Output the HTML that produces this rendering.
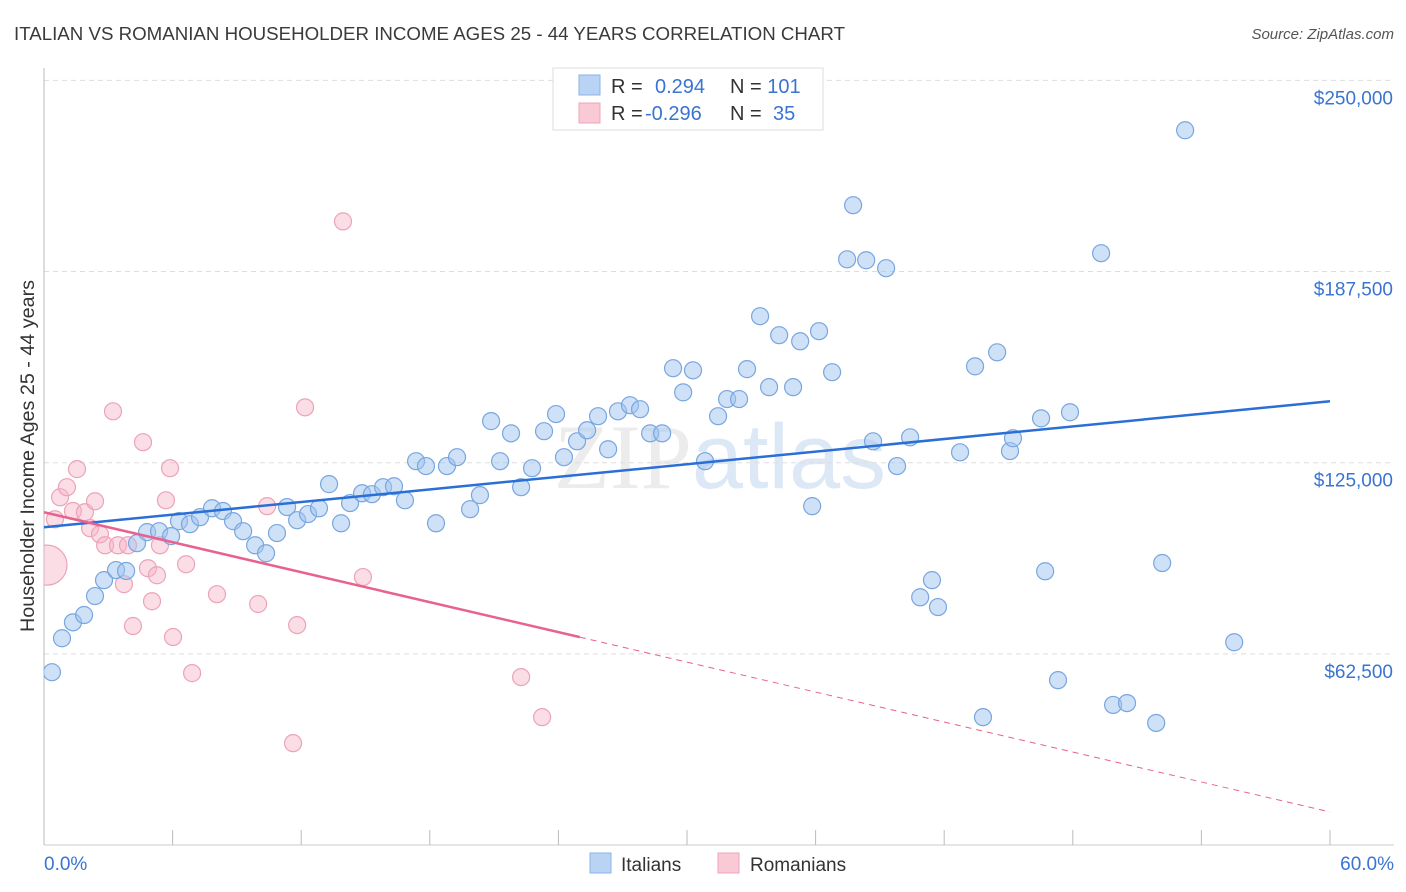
<!DOCTYPE html>
<html><head><meta charset="utf-8"><style>
body{margin:0;background:#fff;font-family:"Liberation Sans",sans-serif;}
svg{display:block}
</style></head><body>
<svg id="chart" width="1406" height="892" xmlns="http://www.w3.org/2000/svg">
<text x="14" y="40" font-size="18" fill="#3a3a3a" textLength="831" lengthAdjust="spacingAndGlyphs">ITALIAN VS ROMANIAN HOUSEHOLDER INCOME AGES 25 - 44 YEARS CORRELATION CHART</text>
<text x="1394" y="39" font-size="15" fill="#555" text-anchor="end" font-style="italic">Source: ZipAtlas.com</text>
<text x="720" y="488" font-size="92" fill="#ececec" text-anchor="middle" font-family="Liberation Serif,serif">ZIP<tspan fill="#dde8f6" font-family="Liberation Sans,sans-serif">atlas</tspan></text>
<g id="grid"></g>
<g id="axes"></g>
<g id="marks"></g>
<g>
<rect x="553" y="68" width="270" height="62" fill="#fff" stroke="#ddd"/>
<rect x="579" y="75" width="21" height="20" fill="#b9d3f5" stroke="#8ab3e6"/>
<rect x="579" y="103" width="21" height="20" fill="#f9c9d6" stroke="#eda5bb"/>
<text x="611" y="93" font-size="20" fill="#333">R = <tspan x="655" fill="#3a74d0">0.294</tspan><tspan x="730" fill="#333">N = </tspan><tspan fill="#3a74d0">101</tspan></text>
<text x="611" y="120" font-size="20" fill="#333">R = <tspan x="645" fill="#3a74d0">-0.296</tspan><tspan x="730" fill="#333">N = </tspan><tspan x="773" fill="#3a74d0">35</tspan></text>
</g>
<g>
<rect x="590" y="853" width="21" height="20" fill="#b9d3f5" stroke="#8ab3e6"/>
<text x="621" y="871" font-size="19" fill="#333">Italians</text>
<rect x="718" y="853" width="21" height="20" fill="#f9c9d6" stroke="#eda5bb"/>
<text x="750" y="871" font-size="19" fill="#333">Romanians</text>
</g>
<text transform="translate(34,456) rotate(-90)" font-size="19" fill="#333" text-anchor="middle" textLength="352" lengthAdjust="spacingAndGlyphs">Householder Income Ages 25 - 44 years</text>
</svg>
<script>
const yTicks=[62500,125000,187500,250000];
const yTickLabels=["$62,500","$125,000","$187,500","$250,000"];
const xTickLabels=["0.0%","60.0%"];
const italiansX=[0.37,0.84,1.35,1.87,2.38,2.80,3.36,3.83,4.34,4.81,5.37,5.93,6.30,6.81,7.28,7.84,8.35,8.82,9.29,9.85,10.36,10.87,11.34,11.81,12.32,12.83,13.30,13.86,14.28,14.84,15.30,15.82,16.33,16.84,17.36,17.82,18.29,18.80,19.27,19.88,20.34,20.86,21.28,21.79,22.26,22.77,23.33,23.89,24.26,24.87,25.34,25.85,26.32,26.78,27.34,27.81,28.28,28.84,29.35,29.82,30.28,30.84,31.45,31.87,32.43,32.80,33.41,33.83,34.30,34.95,35.28,36.16,36.77,35.84,37.47,37.75,38.36,39.29,38.68,39.80,40.41,40.88,41.43,41.71,42.74,43.44,43.81,44.47,45.07,45.21,46.52,46.71,47.31,47.87,49.32,49.88,50.53,51.89,52.17,53.24,55.53];
const italiansY=[56.5,67.6,72.8,75.2,81.4,86.6,89.9,89.6,98.7,102.3,102.6,101.0,105.9,104.9,107.2,110.1,109.2,105.9,102.6,98.0,95.4,102.0,110.5,106.2,108.2,110.1,118.0,105.2,111.8,115.0,114.7,117.0,117.3,112.7,125.5,123.9,105.2,123.9,126.8,109.8,114.4,138.6,125.5,134.6,117.0,123.2,135.3,140.9,126.8,132.0,135.6,140.2,129.4,141.8,143.8,142.5,134.6,134.6,155.9,148.0,155.2,125.5,140.2,145.8,145.8,155.6,172.9,149.7,166.7,149.7,164.7,168.0,154.6,110.8,191.5,209.2,191.2,188.6,132.0,123.9,133.3,81.0,86.6,77.8,128.4,156.5,41.8,161.1,128.8,133.0,139.5,89.5,53.9,141.5,193.5,45.8,46.4,39.9,92.2,233.7,66.3];
const romaniansX=[0.14,0.51,0.75,1.07,1.35,1.54,1.91,2.15,2.38,2.61,2.85,3.45,3.73,4.15,3.92,3.22,4.62,4.85,5.04,5.27,5.41,5.69,5.88,6.02,6.63,6.91,8.07,9.99,10.41,11.62,11.81,12.18,13.95,14.88,22.26,23.24];
const romaniansY=[91.5,106.5,113.7,117.0,109.2,122.9,108.8,103.6,112.4,101.6,98.0,98.0,85.3,71.6,98.0,141.8,131.7,90.5,79.7,88.2,98.0,112.7,123.2,68.0,91.8,56.2,82.0,78.8,110.8,33.3,71.9,143.1,203.9,87.6,54.9,41.8];
const italiansTrend=[103.9,145.1];
const romaniansTrend=[108.8,10.8];
const romaniansSolidEnd=25;

const NS="http://www.w3.org/2000/svg";
const X0=44,X1=1330,Y0=845,Y250=80.4;
const xs=p=>X0+p/60*(X1-X0);
const ys=v=>Y0-v/250000*(Y0-Y250);
const yk=v=>ys(v*1000);
function mk(tag,attrs,parent){const e=document.createElementNS(NS,tag);for(const k in attrs)e.setAttribute(k,attrs[k]);parent.appendChild(e);return e;}
const grid=document.getElementById('grid'),axes=document.getElementById('axes'),marks=document.getElementById('marks');
yTicks.forEach((t,i)=>{
  const l=mk('line',{x1:X0,x2:1394,y1:ys(t),y2:ys(t),stroke:'#ddd','stroke-dasharray':'5,4'},grid);
  
  
  const tx=mk('text',{x:1393,y:ys(t)+24,'font-size':19,fill:'#3a74d0','text-anchor':'end'},axes);
  tx.textContent=yTickLabels[i];
  
  
});
const ax=mk('line',{x1:X0,x2:1394,y1:Y0,y2:Y0,stroke:'#ccc'},axes);


const ay=mk('line',{x1:X0,x2:X0,y1:68,y2:Y0,stroke:'#bbb'},axes);


for(let i=0;i<=10;i++){
  const t=mk('line',{x1:xs(i*6),x2:xs(i*6),y1:830,y2:Y0,stroke:'#bbb'},axes);
  
  
}
xTickLabels.forEach((s,i)=>{
  const tx=mk('text',{x:i?1394:44,y:870,'font-size':19,fill:'#3a74d0','text-anchor':i?'end':'start'},axes);
  tx.textContent=s;
  
  
});
const cp=mk('clipPath',{id:'plotclip'},marks);mk('rect',{x:X0,y:60,width:1362,height:790},cp);
const pts=mk('g',{'clip-path':'url(#plotclip)'},marks);
romaniansX.forEach((x,i)=>{
  const r=i===0?20:8.5;
  const c=mk('circle',{cx:xs(x),cy:yk(romaniansY[i]),r:r,fill:'rgba(246,180,200,0.45)',stroke:'#eca3ba','stroke-width':1.2},pts);
  
  
});
italiansX.forEach((x,i)=>{
  const c=mk('circle',{cx:xs(x),cy:yk(italiansY[i]),r:8.5,fill:'rgba(160,195,240,0.5)',stroke:'#78a6e0','stroke-width':1.2},pts);
  
  
});
const bt=mk('line',{x1:xs(0),y1:yk(italiansTrend[0]),x2:xs(60),y2:yk(italiansTrend[1]),stroke:'#2a6fd6','stroke-width':2.5},marks);


const pAt=x=>romaniansTrend[0]+(romaniansTrend[1]-romaniansTrend[0])*x/60;
const pt=mk('line',{x1:xs(0),y1:yk(pAt(0)),x2:xs(romaniansSolidEnd),y2:yk(pAt(romaniansSolidEnd)),stroke:'#e8618f','stroke-width':2.5},marks);


const pd=mk('line',{x1:xs(romaniansSolidEnd),y1:yk(pAt(romaniansSolidEnd)),x2:xs(60),y2:yk(pAt(60)),stroke:'#e8618f','stroke-width':1,'stroke-dasharray':'6,5'},marks);


</script>
</body></html>
